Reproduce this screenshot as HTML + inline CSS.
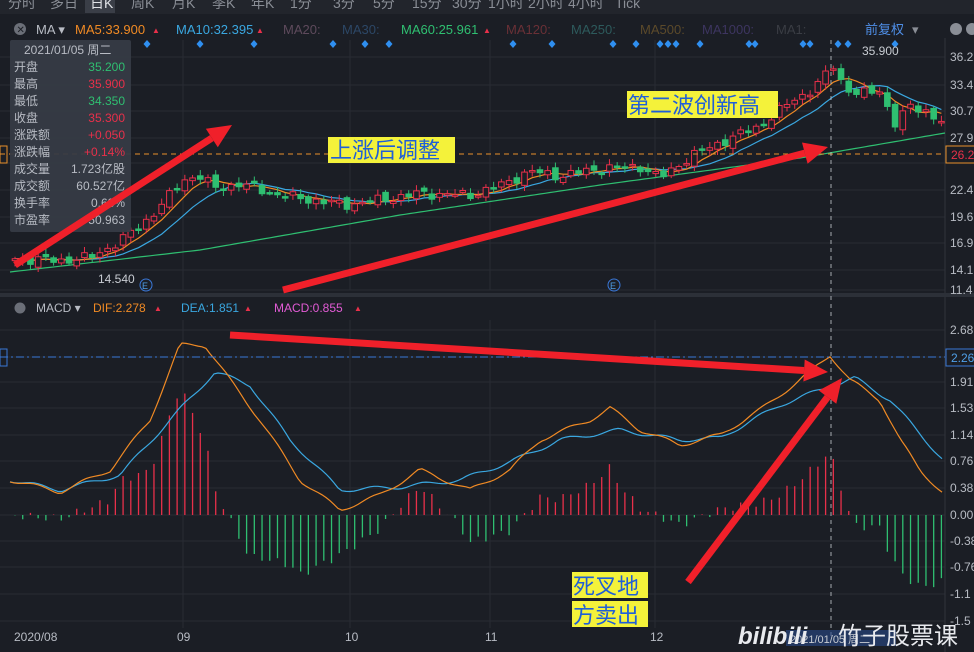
<!DOCTYPE html>
<html><head><meta charset="utf-8">
<style>
html,body{margin:0;padding:0;background:#1b1e25;}
svg{display:block;font-family:"Liberation Sans","Noto Sans CJK SC",sans-serif;}
</style></head>
<body>
<svg id="s" width="974" height="652" viewBox="0 0 974 652" xmlns="http://www.w3.org/2000/svg">
<rect width="974" height="652" fill="#1b1e25"/>
<!-- toolbar -->
<rect x="0" y="0" width="974" height="14" fill="#22252c"/>
<rect x="85" y="0" width="30" height="13" fill="#3a3e47"/>
<g font-size="14" fill="#8a8e96">
<text x="8" y="8">分时</text><text x="50" y="8">多日</text><text x="90" y="8" fill="#e0e2e6">日K</text><text x="131" y="8">周K</text><text x="172" y="8">月K</text><text x="212" y="8">季K</text><text x="251" y="8">年K</text><text x="290" y="8">1分</text><text x="333" y="8">3分</text><text x="373" y="8">5分</text><text x="412" y="8">15分</text><text x="452" y="8">30分</text><text x="488" y="8">1小时</text><text x="528" y="8">2小时</text><text x="568" y="8">4小时</text><text x="615" y="8">Tick</text>
</g>
<!-- MA bar -->
<g font-size="13">
<circle cx="20" cy="29" r="6" fill="#6b6f78"/><text x="16.5" y="33" font-size="10" fill="#1b1e25">✕</text>
<text x="36" y="34" fill="#b8bcc4">MA ▾</text>
<text x="75" y="34" fill="#f08a24">MA5:33.900</text><text x="152" y="33" fill="#e8304a" font-size="8">▲</text>
<text x="176" y="34" fill="#3aa7e0">MA10:32.395</text><text x="256" y="33" fill="#e8304a" font-size="8">▲</text>
<text x="283" y="34" fill="#5e4a5c">MA20:</text>
<text x="342" y="34" fill="#2c4766">MA30:</text>
<text x="401" y="34" fill="#2fbf71">MA60:25.961</text><text x="483" y="33" fill="#e8304a" font-size="8">▲</text>
<text x="506" y="34" fill="#6a3036">MA120:</text>
<text x="571" y="34" fill="#2d5a5c">MA250:</text>
<text x="640" y="34" fill="#5c4a2a">MA500:</text>
<text x="702" y="34" fill="#3d3560">MA1000:</text>
<text x="776" y="34" fill="#3a3d44">MA1:</text>
<text x="865" y="34" fill="#4f8fe8">前复权</text><text x="912" y="34" fill="#8a8e96">▾</text>
<circle cx="956" cy="29" r="6" fill="#8a8e96"/><circle cx="972" cy="29" r="6" fill="#8a8e96"/>
</g>
<g id="grid" stroke="#282c34" stroke-width="1"></g>
<line x1="0" y1="295" x2="974" y2="295" stroke="#2c3038" stroke-width="4"/>
<g id="chart"></g>
<!-- right axes -->
<g font-size="12" fill="#b8bcc4">
<text x="950" y="61">36.2</text><text x="950" y="89">33.4</text><text x="950" y="115">30.7</text><text x="950" y="142">27.9</text><text x="950" y="194">22.4</text><text x="950" y="221">19.6</text><text x="950" y="247">16.9</text><text x="950" y="274">14.1</text><text x="950" y="294">11.4</text>
<text x="950" y="334">2.68</text><text x="950" y="386">1.91</text><text x="950" y="412">1.53</text><text x="950" y="439">1.14</text><text x="950" y="465">0.76</text><text x="950" y="492">0.38</text><text x="950" y="519">0.00</text><text x="950" y="545">-0.38</text><text x="950" y="571">-0.76</text><text x="950" y="598">-1.1</text><text x="950" y="625">-1.5</text>
</g>
<rect x="946" y="146" width="30" height="17" fill="#1b1e25" stroke="#e8902a"/>
<text x="951" y="159" font-size="12" fill="#e8304a">26.2</text>
<rect x="0" y="146" width="7" height="17" fill="none" stroke="#e8902a"/>
<rect x="946" y="349" width="30" height="17" fill="#1b1e25" stroke="#3a78d8"/>
<text x="951" y="362" font-size="12" fill="#4f9fe8">2.26</text>
<rect x="0" y="349" width="7" height="17" fill="none" stroke="#3a78d8"/>
<!-- MACD header -->
<g font-size="12">
<circle cx="20" cy="308" r="5.5" fill="#6b6f78"/>
<text x="36" y="312" fill="#b8bcc4">MACD ▾</text>
<text x="93" y="312" fill="#f08a24">DIF:2.278</text><text x="154" y="311" fill="#e8304a" font-size="8">▲</text>
<text x="181" y="312" fill="#3aa7e0">DEA:1.851</text><text x="244" y="311" fill="#e8304a" font-size="8">▲</text>
<text x="274" y="312" fill="#e25bd5">MACD:0.855</text><text x="354" y="311" fill="#e8304a" font-size="8">▲</text>
</g>
<!-- x axis -->
<g font-size="12" fill="#b8bcc4">
<text x="14" y="641">2020/08</text><text x="177" y="641">09</text><text x="345" y="641">10</text><text x="485" y="641">11</text><text x="650" y="641">12</text>
</g>
<!-- info box -->
<rect x="10" y="40" width="121" height="192" rx="2" fill="#363b44" opacity="0.95"/>
<g font-size="12" fill="#b8bcc4">
<text x="24" y="54">2021/01/05 周二</text>
<text x="14" y="71">开盘</text><text x="125" y="71" text-anchor="end" fill="#2fbf71">35.200</text>
<text x="14" y="88">最高</text><text x="125" y="88" text-anchor="end" fill="#e8304a">35.900</text>
<text x="14" y="105">最低</text><text x="125" y="105" text-anchor="end" fill="#2fbf71">34.350</text>
<text x="14" y="122">收盘</text><text x="125" y="122" text-anchor="end" fill="#e8304a">35.300</text>
<text x="14" y="139">涨跌额</text><text x="125" y="139" text-anchor="end" fill="#e8304a">+0.050</text>
<text x="14" y="156">涨跌幅</text><text x="125" y="156" text-anchor="end" fill="#e8304a">+0.14%</text>
<text x="14" y="173">成交量</text><text x="125" y="173" text-anchor="end">1.723亿股</text>
<text x="14" y="190">成交额</text><text x="125" y="190" text-anchor="end">60.527亿</text>
<text x="14" y="207">换手率</text><text x="125" y="207" text-anchor="end">0.68%</text>
<text x="14" y="224">市盈率</text><text x="125" y="224" text-anchor="end">50.963</text>
</g>
<text x="98" y="283" font-size="12" fill="#c8ccd2">14.540</text>
<text x="862" y="55" font-size="12" fill="#c8ccd2">35.900</text>
<circle cx="146" cy="285" r="6" fill="none" stroke="#3a78d8"/><text x="142" y="289" font-size="9" fill="#4f9fe8">E</text>
<circle cx="614" cy="285" r="6" fill="none" stroke="#3a78d8"/><text x="610" y="289" font-size="9" fill="#4f9fe8">E</text>
<g id="ann"></g>
<!-- labels -->
<g font-size="22" fill="#1f5fd8">
<rect x="328" y="137" width="127" height="26" fill="#f4f23a"/><text x="330" y="158">上涨后调整</text>
<rect x="627" y="91" width="151" height="27" fill="#f4f23a"/><text x="628" y="113">第二波创新高</text>
<rect x="572" y="572" width="76" height="26" fill="#f4f23a"/><text x="573" y="594">死叉地</text>
<rect x="572" y="601" width="76" height="26" fill="#f4f23a"/><text x="573" y="623">方卖出</text>
</g>
<rect x="786" y="630" width="110" height="16" fill="#2a4a8a" opacity="0.6"/>
<text x="790" y="643" font-size="11" fill="#c8ccd2">2021/01/05 周二</text>
<text x="738" y="644" font-size="24" fill="#e8eaee" font-style="italic" font-weight="bold">bilibili</text>
<text x="838" y="644" font-size="24" fill="#e8eaee">竹子股票课</text>
</svg>
<script>
(function(){
var NS="http://www.w3.org/2000/svg",ch=document.getElementById('chart'),gr=document.getElementById('grid');
function el(t,a,p){var e=document.createElementNS(NS,t);for(var k in a)e.setAttribute(k,a[k]);(p||ch).appendChild(e);return e;}
[57,85,111,138,163,190,217,243,270,290,330,357,382,408,435,461,488,515,541,567,594,621].forEach(function(y){el('line',{x1:0,y1:y,x2:945,y2:y},gr);});
[183,350,490,655].forEach(function(x){el('line',{x1:x,y1:40,x2:x,y2:290},gr);el('line',{x1:x,y1:320,x2:x,y2:628},gr);});
el('line',{x1:945,y1:38,x2:945,y2:652,stroke:'#30343c'},gr);
function interp(pts,x){if(x<=pts[0][0])return pts[0][1];for(var i=1;i<pts.length;i++){if(x<=pts[i][0]){var a=pts[i-1],b=pts[i];return a[1]+(b[1]-a[1])*(x-a[0])/(b[0]-a[0]);}}return pts[pts.length-1][1];}
function py(p){return 57+(36.2-p)*9.6;}
var kp=[[12,15.2],[60,15.0],[90,15.3],[120,17],[150,19.5],[185,23.5],[200,23.8],[215,22.5],[240,23],[280,21.8],[320,21.2],[345,20.8],[380,21.3],[420,22.0],[470,21.8],[500,22.8],[530,24.3],[560,23.8],[600,24.6],[640,24.8],[660,23.6],[690,25.8],[720,27.3],[760,29],[790,31.5],[815,33],[833,35.3],[845,33],[860,32.3],[880,32.7],[895,29.3],[910,31],[925,30.7],[940,29.5]];
var N=121,xs=[],cl=[];
for(var i=0;i<N;i++){var x=15+i*7.72;xs.push(x);var n=Math.sin(i*2.3)*0.35+Math.sin(i*5.1)*0.25;cl.push(interp(kp,x)+n);}
// ma60
var m60=[[10,272],[200,250],[400,215],[600,185],[800,158],[945,133]],d='';
for(var x=10;x<=945;x+=5)d+=(x==10?'M':'L')+x+','+interp(m60,x).toFixed(1);
el('path',{d:d,fill:'none',stroke:'#2fbf71','stroke-width':1.2});
function ma(n,col){var d='';for(var i=0;i<N;i++){var s=0,c=0;for(var j=Math.max(0,i-n+1);j<=i;j++){s+=cl[j];c++;}d+=(i?'L':'M')+xs[i].toFixed(1)+','+py(s/c).toFixed(1);}el('path',{d:d,fill:'none',stroke:col,'stroke-width':1.2});}
ma(10,'#3aa7e0');ma(5,'#f08a24');
for(var i=0;i<N;i++){var o=i?cl[i-1]+Math.sin(i*3.7)*0.3:cl[i]-0.2,c=cl[i],hi=Math.max(o,c)+0.2+Math.abs(Math.sin(i*1.9))*0.4,lo=Math.min(o,c)-0.2-Math.abs(Math.cos(i*2.9))*0.4;
var up=c>=o,col=up?'#e8304a':'#2fbf71',x=xs[i];
el('line',{x1:x,y1:py(hi),x2:x,y2:py(lo),stroke:col});
var t=py(Math.max(o,c)),h=Math.max(1.5,Math.abs(py(o)-py(c)));
el('rect',{x:x-2.8,y:t,width:5.6,height:h,fill:up?'#1b1e25':col,stroke:col,'stroke-width':1});}
// diamonds
[147,200,254,333,365,389,513,552,613,636,660,668,676,700,749,755,803,810,838,848,895].forEach(function(x){el('path',{d:'M'+x+',40l3.5,4l-3.5,4l-3.5,-4z',fill:'#2f8ff0'});});
// MACD
var dif=[[10,480],[60,492],[110,470],[150,420],[180,345],[205,345],[230,380],[260,420],[300,480],[340,510],[380,495],[420,470],[470,490],[510,470],[540,440],[590,420],[610,408],[640,430],[680,445],[720,435],[760,410],[800,380],[830,355],[850,380],[880,400],[900,440],[920,470],[945,495]];
var dea=[[10,480],[60,490],[120,475],[170,420],[215,372],[250,385],[290,440],[340,490],[400,487],[460,480],[510,462],[560,440],[620,430],[680,440],[720,438],[780,405],[820,390],[855,378],[890,400],[945,462]];
for(var i=0;i<N;i++){var x=xs[i],v=(interp(dea,x)-interp(dif,x))*2+Math.sin(i*4.1)*4;el('line',{x1:x,y1:515,x2:x,y2:515-v,stroke:v>=0?'#e8304a':'#2fbf71','stroke-width':1.3});}
function ln(p,c){var d='';for(var x=10;x<=945;x+=4)d+=(x==10?'M':'L')+x+','+(interp(p,x)+Math.sin(x*0.13)*2).toFixed(1);el('path',{d:d,fill:'none',stroke:c,'stroke-width':1.2});}
ln(dea,'#3aa7e0');ln(dif,'#f08a24');
// guide lines
el('line',{x1:0,y1:154,x2:945,y2:154,stroke:'#e8902a','stroke-dasharray':'5,4'});
el('line',{x1:0,y1:357,x2:945,y2:357,stroke:'#3a78d8','stroke-dasharray':'8,3,2,3'});
el('line',{x1:831,y1:40,x2:831,y2:640,stroke:'#c8ccd2','stroke-dasharray':'4,4','stroke-width':0.8});
// arrows
var A=document.getElementById('ann');
function arr(x1,y1,x2,y2){var dx=x2-x1,dy=y2-y1,L=Math.hypot(dx,dy),ux=dx/L,uy=dy/L,hl=24,hw=11;var bx=x2-ux*hl,by=y2-uy*hl;
el('line',{x1:x1,y1:y1,x2:bx,y2:by,stroke:'#f0202a','stroke-width':7},A);
el('path',{d:'M'+x2+','+y2+'L'+(bx-uy*hw)+','+(by+ux*hw)+'L'+(bx+uy*hw)+','+(by-ux*hw)+'Z',fill:'#f0202a'},A);}
arr(15,265,232,125);arr(283,290,828,147);arr(230,335,828,372);arr(688,582,842,378);
})();
</script>
</body></html>
